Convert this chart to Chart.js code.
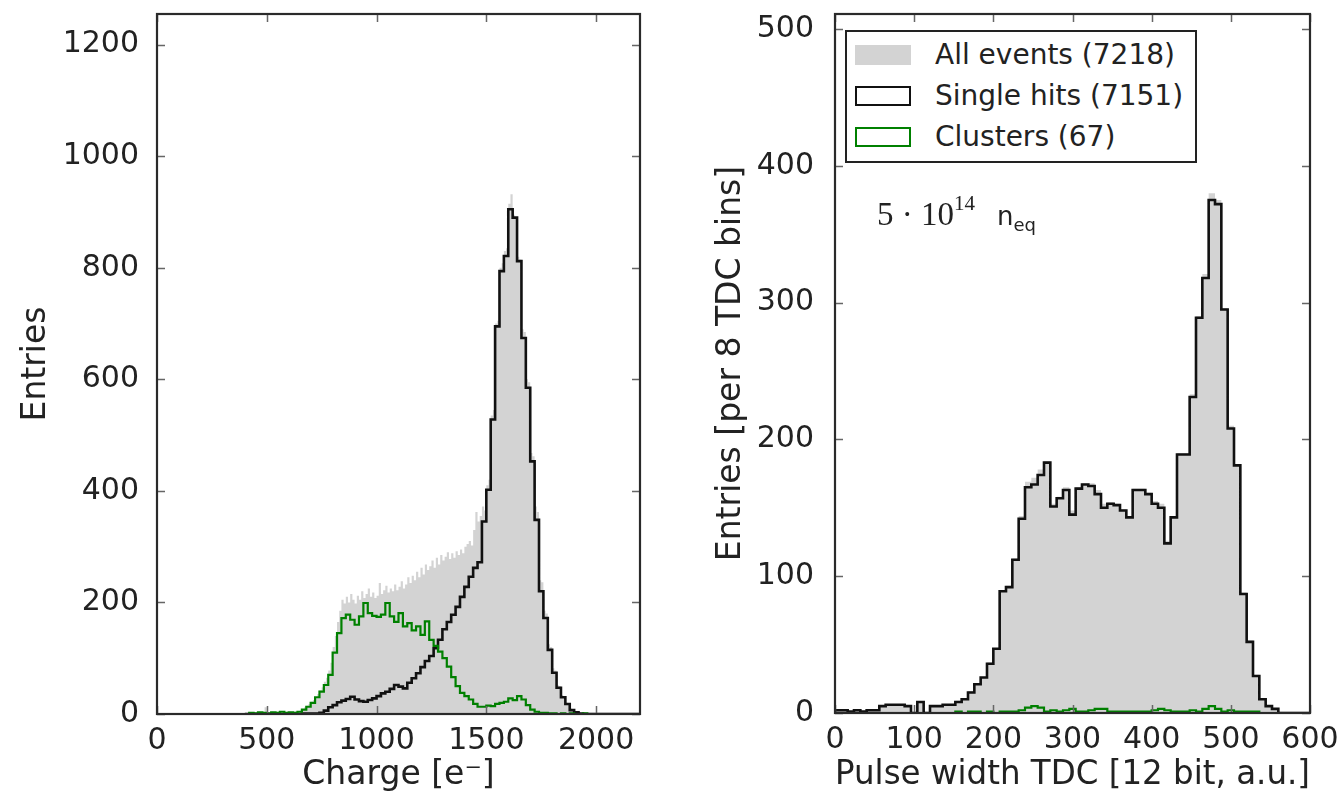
<!DOCTYPE html>
<html>
<head>
<meta charset="utf-8">
<script src="https://cdn.jsdelivr.net/npm/chart.js@4.4.0/dist/chart.umd.min.js"></script>
<style>
  html, body { margin: 0; padding: 0; background: #fff; }
  #page { position: relative; width: 1338px; height: 806px; overflow: hidden; }
  .panel { position: absolute; top: 0; width: 669px; height: 806px; }
  #legend {
    position: absolute; left: 845px; top: 30px; width: 352px; height: 133px;
    box-sizing: border-box; border: 2px solid #222; background: #fff;
    font-family: 'DejaVu Sans'; font-size: 28px; color: #222; padding-top: 2px;
  }
  #legend .row { display: flex; align-items: center; height: 41px; white-space: nowrap; }
  #legend .patch { box-sizing: border-box; width: 56px; height: 20px; margin-left: 8px; margin-right: 24px; }
  #fluence { position: absolute; left: 877px; top: 194px; white-space: nowrap; color: #222; }
  #fluence .num { font-family: 'Liberation Serif'; font-size: 33px; }
  #fluence .num sup { font-size: 21px; position: relative; top: -3px; }
  #fluence .neq { font-family: 'DejaVu Sans'; font-size: 26px; margin-left: 22px; }
  #fluence .neq sub { font-size: 18px; }
</style>
</head>
<body>
<div id="page">
  <div class="panel" style="left:0"><canvas id="chargeChart"></canvas></div>
  <div class="panel" style="left:669px"><canvas id="tdcChart"></canvas></div>
  <div id="legend"></div>
  <div id="fluence"><span class="num">5 · 10<sup>14</sup></span><span class="neq">n<sub>eq</sub></span></div>
</div>
<script>
// --- Data ---
const seriesLabels = ['All events (7218)', 'Single hits (7151)', 'Clusters (67)'];

// left panel: charge histograms
const chargeFineStart = 400;   // all events, 10 e bins
const chargeFineWidth = 10;
const allEventsCharge = [
  1, 0, 2, 3, 1, 2, 4, 2, 3, 12,
  3, 2, 4, 3, 2, 5, 3, 4, 2, 3,
  4, 2, 3, 5, 4, 6, 9, 12, 15, 18,
  22, 25, 30, 36, 42, 48, 58, 65, 78, 92,
  120, 140, 165, 185, 205, 198, 210, 200, 215, 205,
  198, 212, 205, 220, 208, 215, 225, 210, 218, 208,
  212, 235, 215, 222, 230, 218, 225, 220, 232, 222,
  228, 238, 225, 232, 245, 235, 248, 240, 255, 245,
  262, 250, 268, 258, 265, 275, 262, 280, 268, 285,
  275, 282, 290, 278, 288, 280, 292, 285, 295, 288,
  300, 305, 310, 302, 330, 362, 345, 355, 372, 365,
  410, 420, 535, 545, 700, 705, 800, 808, 830, 835,
  915, 932, 895, 890, 820, 815, 690, 685, 600, 595,
  468, 462, 372, 362, 240, 236, 185, 180, 125, 120,
  82, 78, 52, 50, 34, 32, 20, 18, 10, 8,
  5, 4, 3, 2, 1, 1, 0, 2, 0, 1
];

const chargeStart = 400;       // single hits / clusters, 20 e bins
const chargeWidth = 20;
const singleHitsCharge = [
  0, 0, 0, 0, 0, 0, 0, 0, 0, 0, 0, 0, 0,
  1, 1, 1, 1, 2, 6, 12, 16, 21, 24, 27, 31, 26, 23, 22, 25, 28,
  32, 37, 40, 45, 52, 49, 46, 56, 64, 73,
  84, 95, 104, 118, 133, 152, 165, 178, 192, 210,
  228, 246, 262, 272, 345, 402, 528, 695, 794, 821,
  905, 890, 812, 674, 585, 453, 348, 220, 172, 115,
  74, 47, 30, 18, 7, 3, 1,
  0, 0, 0, 0, 0, 0, 0, 0, 0, 0, 0, 0, 0
];
const clustersCharge = [
  0, 2, 1, 3, 2, 1, 3, 2, 4, 2, 3, 2, 4,
  8, 13, 20, 30, 40, 52, 70, 110, 145, 172, 178, 169, 160, 175, 199, 181, 176,
  174, 178, 199, 175, 165, 181, 157, 163, 150, 157,
  142, 166, 133, 122, 112, 100, 85, 66, 50, 38,
  32, 26, 18, 13, 13, 15, 14, 18, 20, 22,
  28, 25, 32, 26, 16, 8, 4, 2, 2, 1,
  1, 0, 1, 0, 1, 0, 0, 1, 0, 0,
  0, 0, 0, 0, 0, 0, 0, 0, 0, 0
];

// right panel: pulse width histograms, 8 TDC bins
const tdcStart = 0;
const tdcWidth = 8;
const allEventsTdc = [
  2, 2, 1, 2, 1, 2, 2, 5, 6, 6,
  6, 5, 0, 8, 0, 5, 5, 6, 6, 9,
  10, 16, 22, 26, 37, 47, 90, 93, 113, 144,
  169, 172, 178, 184, 153, 158, 165, 148, 165, 168,
  168, 163, 153, 154, 153, 149, 144, 164, 164, 161,
  155, 153, 126, 144, 190, 190, 233, 290, 321, 380,
  375, 296, 210, 182, 88, 53, 28, 10, 5, 3,
  0, 0, 0, 0, 0
];
const singleHitsTdc = [
  2, 2, 1, 2, 1, 2, 2, 5, 6, 6,
  6, 5, 0, 8, 0, 5, 5, 6, 6, 8,
  10, 15, 21, 26, 36, 47, 89, 92, 112, 142,
  165, 167, 174, 183, 151, 157, 163, 145, 164, 167,
  166, 160, 150, 153, 152, 148, 143, 163, 163, 160,
  153, 150, 124, 143, 189, 189, 231, 289, 318, 375,
  372, 295, 208, 181, 87, 52, 27, 10, 5, 3,
  0, 0, 0, 0, 0
];
const clustersTdc = [
  0, 0, 0, 0, 0, 0, 0, 0, 0, 0,
  0, 0, 0, 0, 0, 0, 0, 0, 0, 1,
  0, 1, 1, 0, 1, 0, 1, 1, 1, 2,
  4, 5, 4, 1, 2, 1, 2, 3, 1, 1,
  2, 3, 3, 1, 1, 1, 1, 1, 1, 1,
  2, 3, 2, 1, 1, 1, 2, 1, 3, 5,
  3, 1, 2, 1, 1, 1, 1, 0, 0, 0,
  0, 0, 0, 0, 0
];

// tick labels
const chargeTicks = [0, 500, 1000, 1500, 2000];
const chargeEntriesTicks = [0, 200, 400, 600, 800, 1000, 1200];
const tdcTicks = [0, 100, 200, 300, 400, 500, 600];
const tdcEntriesTicks = [0, 100, 200, 300, 400, 500];

// --- Helpers ---
const TEXT = '#222';
const GRAY = '#d3d3d3';
const GREEN = '#008000';

// histogram values -> closed step outline (left bin edges, stepped 'before')
function stepPoints(start, width, values) {
    const pts = [{ x: start, y: 0 }];
    values.forEach((v, i) => pts.push({ x: start + i * width, y: v }));
    const end = start + values.length * width;
    pts.push({ x: end, y: values[values.length - 1] }, { x: end, y: 0 });
    return pts;
}

// box frame + inward ticks on all four sides (classic matplotlib look)
const frameTicks = {
    id: 'frameTicks',
    afterDatasetsDraw(chart) {
        const { ctx, chartArea: a, scales: { x, y } } = chart;
        ctx.save();
        ctx.strokeStyle = '#666';
        ctx.lineWidth = 1.5;
        ctx.beginPath();
        x.ticks.forEach(t => {
            const px = Math.round(x.getPixelForValue(t.value)) + 0.5;
            ctx.moveTo(px, a.bottom); ctx.lineTo(px, a.bottom - 8);
            ctx.moveTo(px, a.top); ctx.lineTo(px, a.top + 8);
        });
        y.ticks.forEach(t => {
            const py = Math.round(y.getPixelForValue(t.value)) + 0.5;
            ctx.moveTo(a.left, py); ctx.lineTo(a.left + 8, py);
            ctx.moveTo(a.right, py); ctx.lineTo(a.right - 8, py);
        });
        ctx.stroke();
        ctx.strokeStyle = '#2a2a2a';
        ctx.lineWidth = 2.2;
        ctx.strokeRect(a.left, a.top, a.right - a.left, a.bottom - a.top);
        ctx.restore();
    }
};

function histDatasets(start, width, all, fineStart, fineWidth, single, clusters) {
    return [
        {
            label: seriesLabels[0], data: stepPoints(fineStart, fineWidth, all),
            stepped: true, fill: 'origin', backgroundColor: GRAY,
            borderColor: 'rgba(0,0,0,0)', borderWidth: 0, pointRadius: 0, order: 3
        },
        {
            label: seriesLabels[1], data: stepPoints(start, width, single),
            stepped: true, fill: false, borderColor: '#111', borderWidth: 2.6,
            pointRadius: 0, order: 2
        },
        {
            label: seriesLabels[2], data: stepPoints(start, width, clusters),
            stepped: true, fill: false, borderColor: GREEN, borderWidth: 2.2,
            pointRadius: 0, order: 1
        }
    ];
}

function makePanel(canvasId, cfg) {
    return new Chart(document.getElementById(canvasId), {
        type: 'line',
        data: { datasets: cfg.datasets },
        options: {
            responsive: true,
            maintainAspectRatio: false,
            animation: false,
            layout: { padding: { left: 0, top: 14, right: cfg.padRight, bottom: 0 } },
            plugins: { legend: { display: false }, tooltip: { enabled: false } },
            scales: {
                x: {
                    type: 'linear', min: cfg.xMin, max: cfg.xMax,
                    grid: { display: false }, border: { display: false },
                    afterBuildTicks: s => { s.ticks = cfg.xTicks.map(v => ({ value: v })); },
                    afterFit: s => { s.height = cfg.xHeight; s.paddingLeft = 0; s.paddingRight = 0; },
                    ticks: { color: TEXT, font: { size: 30 }, padding: 1, maxRotation: 0, autoSkip: false, callback: v => String(v) },
                    title: { display: true, text: cfg.xTitle, color: TEXT, font: { size: 33 }, padding: { top: 0, bottom: 11 } }
                },
                y: {
                    type: 'linear', min: 0, max: cfg.yMax,
                    grid: { display: false }, border: { display: false },
                    afterBuildTicks: s => { s.ticks = cfg.yTicks.map(v => ({ value: v })); },
                    afterFit: s => { s.width = cfg.yWidth; s.paddingTop = 0; s.paddingBottom = 0; },
                    ticks: { color: TEXT, font: { size: 30 }, padding: cfg.yTickPad, callback: v => String(v) },
                    title: { display: true, text: cfg.yTitle, color: TEXT, font: { size: 33 }, padding: { top: cfg.yTitlePad, bottom: 0 } }
                }
            }
        },
        plugins: [frameTicks]
    });
}

Chart.defaults.font.family = "'DejaVu Sans'";
Chart.defaults.color = TEXT;

// --- Charts ---
const chargeChart = makePanel('chargeChart', {
    datasets: histDatasets(chargeStart, chargeWidth, allEventsCharge, chargeFineStart, chargeFineWidth, singleHitsCharge, clustersCharge),
    xMin: 0, xMax: 2200, yMax: 1255,
    xTicks: chargeTicks, yTicks: chargeEntriesTicks,
    xTitle: 'Charge [e⁻]', yTitle: 'Entries',
    padRight: 29, xHeight: 92, yWidth: 157, yTitlePad: 17, yTickPad: 10
});

const tdcChart = makePanel('tdcChart', {
    datasets: histDatasets(tdcStart, tdcWidth, allEventsTdc, tdcStart, tdcWidth, singleHitsTdc, clustersTdc),
    xMin: 0, xMax: 600, yMax: 511,
    xTicks: tdcTicks, yTicks: tdcEntriesTicks,
    xTitle: 'Pulse width TDC [12 bit, a.u.]', yTitle: 'Entries [per 8 TDC bins]',
    padRight: 28, xHeight: 93, yWidth: 166, yTitlePad: 43, yTickPad: 13
});

// --- Legend (built from the right panel datasets) ---
const legendBox = document.getElementById('legend');
tdcChart.data.datasets.forEach(ds => {
    const row = document.createElement('div');
    row.className = 'row';
    const patch = document.createElement('span');
    patch.className = 'patch';
    if (ds.fill) {
        patch.style.background = ds.backgroundColor;
    } else {
        patch.style.border = '2px solid ' + ds.borderColor;
    }
    const label = document.createElement('span');
    label.textContent = ds.label;
    row.appendChild(patch);
    row.appendChild(label);
    legendBox.appendChild(row);
});
</script>
</body>
</html>
